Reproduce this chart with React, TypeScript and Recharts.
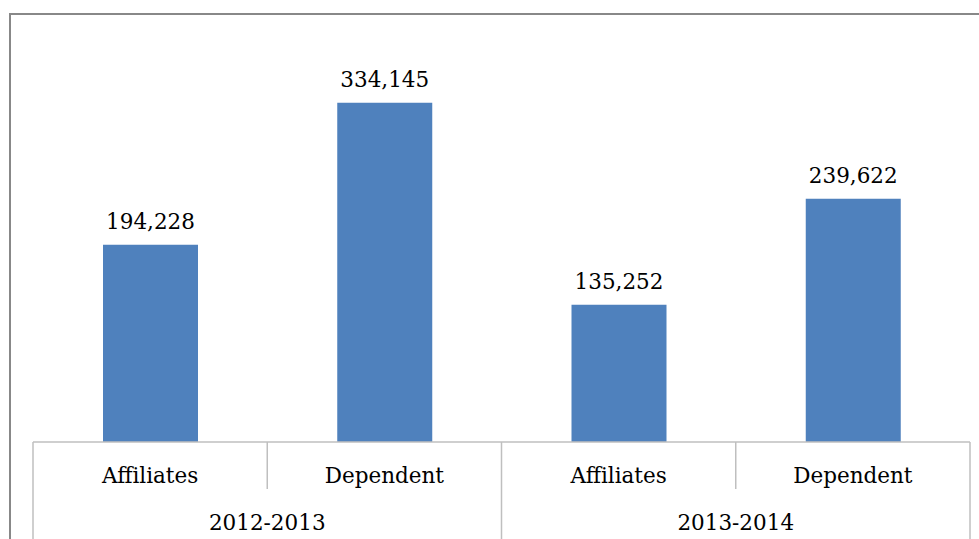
import { Bar, BarChart, LabelList, XAxis, YAxis } from 'recharts';

const categories = ['Affiliates', 'Dependent', 'Affiliates', 'Dependent'];
const years = ['2012-2013', '2012-2013', '2013-2014', '2013-2014'];
const counts = [194228, 334145, 135252, 239622];

const data = categories.map((category, i) => ({ category, year: years[i], count: counts[i] }));

const CHART_W = 979;
const MARGIN = { top: 36, right: 9, left: 33, bottom: 0 };
const BAND = (CHART_W - MARGIN.left - MARGIN.right) / categories.length;
const CAT_AXIS_H = 48;
const YEAR_AXIS_H = 70;
const FONT = "'DejaVu Serif', serif";
const LINE = '#bfbfbf';

function CategoryTick(props: any) {
  const { x, y, payload, index } = props;
  const groupStart = index === 0 || years[index] !== years[index - 1];
  const isLast = index === categories.length - 1;
  const left = x - BAND / 2;
  const right = x + BAND / 2;
  return (
    <g>
      <line
        x1={left}
        x2={left}
        y1={y}
        y2={groupStart ? y + CAT_AXIS_H + YEAR_AXIS_H : y + CAT_AXIS_H - 1}
        stroke={LINE}
        strokeWidth={1.5}
      />
      {isLast && (
        <line x1={right} x2={right} y1={y} y2={y + CAT_AXIS_H + YEAR_AXIS_H} stroke={LINE} strokeWidth={1.5} />
      )}
      <text x={x} y={y + 41} textAnchor="middle" fontFamily={FONT} fontSize={21.5} fill="#000">
        {payload.value}
      </text>
    </g>
  );
}

function YearTick(props: any) {
  const { x, y, payload } = props;
  return (
    <text x={x} y={y + 40} textAnchor="middle" fontFamily={FONT} fontSize={21.5} fill="#000">
      {payload.value}
    </text>
  );
}

export default function App() {
  return (
    <div
      style={{
        position: 'absolute',
        left: 0,
        top: 0,
        width: 979,
        height: 539,
        overflow: 'hidden',
        background: '#fff',
      }}
    >
      <div
        style={{
          position: 'absolute',
          left: 9,
          top: 13,
          width: 1100,
          height: 700,
          borderLeft: '2px solid #888',
          borderTop: '2px solid #888',
        }}
      />
      <div style={{ position: 'absolute', left: 0, top: 0 }}>
        <BarChart
          width={CHART_W}
          height={MARGIN.top + 406 + CAT_AXIS_H + YEAR_AXIS_H}
          data={data}
          margin={MARGIN}
          style={{ overflow: 'visible' }}
        >
          <YAxis hide domain={[0, 400000]} />
          <XAxis
            xAxisId="cat"
            dataKey="category"
            height={CAT_AXIS_H}
            interval={0}
            tickLine={false}
            tickSize={0}
            tickMargin={0}
            axisLine={{ stroke: LINE, strokeWidth: 1.5 }}
            tick={CategoryTick}
          />
          <XAxis
            xAxisId="year"
            dataKey="year"
            allowDuplicatedCategory={false}
            height={YEAR_AXIS_H}
            interval={0}
            tickLine={false}
            tickSize={0}
            tickMargin={0}
            axisLine={false}
            tick={YearTick}
          />
          <Bar xAxisId="cat" dataKey="count" fill="#4f81bd" barSize={95} isAnimationActive={false}>
            <LabelList
              dataKey="count"
              position="top"
              offset={16}
              formatter={(v: any) => Number(v).toLocaleString('en-US')}
              style={{ fontFamily: FONT, fontSize: 21.5, fill: '#000' }}
            />
          </Bar>
        </BarChart>
      </div>
    </div>
  );
}
